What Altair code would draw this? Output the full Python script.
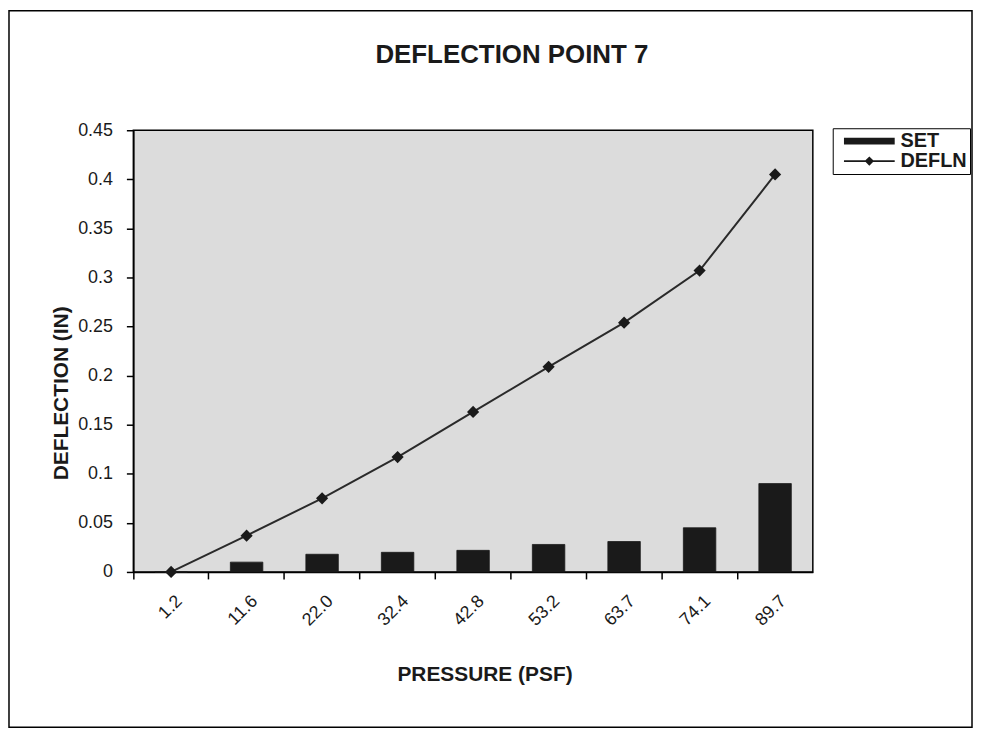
import altair as alt
import pandas as pd

# ---- data ----
pressure = ["1.2", "11.6", "22.0", "32.4", "42.8", "53.2", "63.7", "74.1", "89.7"]
set_vals = [0.0, 0.010, 0.018, 0.020, 0.022, 0.028, 0.031, 0.045, 0.090]
defln_vals = [0.0, 0.037, 0.075, 0.117, 0.163, 0.209, 0.254, 0.307, 0.405]
series_names = ["SET", "DEFLN"]
y_ticks = [0, 0.05, 0.1, 0.15, 0.2, 0.25, 0.3, 0.35, 0.4, 0.45]

df = pd.DataFrame({"pressure": pressure, "SET": set_vals, "DEFLN": defln_vals})

FONT = "Liberation Sans"
W, H = 683, 444
INK = "#1a1a1a"

SET_PATH = "M-0.2,-0.4H5.8V0.4H-0.2Z"
DEFLN_PATH = "M-0.2,-0.1H5.8V0.1H-0.2Z M2.8,-0.55L3.35,0L2.8,0.55L2.25,0Z"

x_enc = alt.X(
    "pressure:O",
    sort=pressure,
    scale=alt.Scale(paddingInner=0, paddingOuter=0),
    axis=alt.Axis(
        title="PRESSURE (PSF)",
        labelAngle=-45,
        bandPosition=0,
        tickSize=7,
        labelPadding=13,
        labelOffset=2,
        titleX=353,
        titleY=109,
        titleBaseline="alphabetic",
        titleAlign="center",
    ),
)

y_scale = alt.Scale(domain=[0, 0.45], nice=False, zero=True)
y_axis = alt.Axis(
    title="DEFLECTION (IN)",
    values=y_ticks,
    format="~g",
    tickSize=7,
    labelPadding=14,
    titleAngle=-90,
    titleX=-66,
    titleY=264,
    titleBaseline="alphabetic",
    titleAlign="center",
)

base = alt.Chart(df)

bars = base.transform_calculate(series="'SET'").mark_bar(
    width=alt.RelativeBandSize(0.43), stroke=INK, strokeWidth=0.8
).encode(
    x=x_enc,
    y=alt.Y("SET:Q", scale=y_scale, axis=y_axis),
    color=alt.Color(
        "series:N",
        scale=alt.Scale(domain=series_names, range=[INK, INK]),
        legend=alt.Legend(
            title=None,
            orient="none",
            direction="vertical",
            legendX=703,
            legendY=-2,
            symbolType=alt.ExprRef(
                f"datum.value === 'SET' ? '{SET_PATH}' : '{DEFLN_PATH}'"
            ),
            symbolSize=289,
            symbolStrokeWidth=0,
            labelOffset=45,
            labelFont=FONT,
            labelFontSize=20,
            labelFontWeight="bold",
            labelColor=INK,
            strokeColor="black",
            fillColor="white",
            padding=3,
            rowPadding=0,
            cornerRadius=0,
        ),
    ),
)

line = base.mark_line(color="#2a2a2a", strokeWidth=2).encode(
    x=alt.X("pressure:O", sort=pressure),
    y=alt.Y("DEFLN:Q", scale=y_scale),
)

points = base.mark_point(
    shape="diamond", filled=True, size=150, color=INK, opacity=1
).encode(
    x=alt.X("pressure:O", sort=pressure),
    y=alt.Y("DEFLN:Q", scale=y_scale),
)

frame = alt.Chart(pd.DataFrame({"k": [0]})).mark_rect(
    fillOpacity=0, stroke="black", strokeWidth=1.5
).encode(
    x=alt.value(-125), x2=alt.value(843), y=alt.value(-120), y2=alt.value(600)
)

chart = (
    alt.layer(bars, line, points, frame)
    .properties(
        width=W,
        height=H,
        autosize=alt.AutoSizeParams(type="none"),
        padding={"left": 126, "top": 121, "right": 161, "bottom": 157},
        background="white",
        title=alt.TitleParams(
            "DEFLECTION POINT 7",
            font=FONT,
            fontSize=26,
            fontWeight="bold",
            color=INK,
            anchor="middle",
            frame="group",
            dx=39,
            offset=-58,
        ),
    )
    .configure_view(stroke="black", strokeWidth=1.5, fill="#dcdcdc")
    .configure_axis(
        grid=False,
        domainColor="black",
        domainWidth=1.5,
        tickColor="black",
        tickWidth=1.5,
        labelFont=FONT,
        labelFontSize=18,
        labelColor=INK,
        titleFont=FONT,
        titleFontSize=21,
        titleFontWeight="bold",
        titleColor=INK,
    )
)

chart.save("out.html", embed_options={"renderer": "svg", "actions": False})
